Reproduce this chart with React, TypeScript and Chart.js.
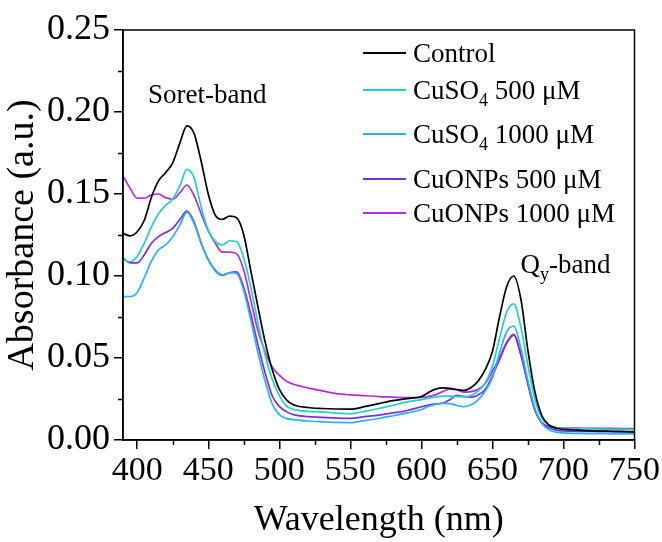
import React, { useEffect, useRef } from 'react';
import { Chart, registerables } from 'chart.js';

Chart.register(...registerables);

const wavelengths = [
  390, 395, 400, 405, 410, 415, 420, 425, 430, 435, 440, 445, 450, 455, 460, 465, 470, 475, 480, 485, 490, 495, 500, 505, 510,
  520, 530, 540, 550, 560, 570, 580, 590, 600,
  605, 610, 615, 620, 625, 630, 635, 640, 645, 650, 655, 660, 665, 670, 675, 680, 685, 690, 695, 700,
  710, 720, 730, 740, 750,
];

const control = [
  0.126, 0.1245, 0.127, 0.134, 0.148, 0.158, 0.163, 0.169, 0.181, 0.1915, 0.187, 0.170, 0.150, 0.137, 0.1345, 0.1365, 0.1355, 0.125, 0.103, 0.081, 0.060, 0.043, 0.031, 0.0245, 0.0215,
  0.0198, 0.0192, 0.0189, 0.0188, 0.0203, 0.0222, 0.0240, 0.0252, 0.0265,
  0.0290, 0.0310, 0.0318, 0.0315, 0.0308, 0.0302, 0.0320, 0.0360, 0.0430, 0.0540, 0.0750, 0.0935, 0.1000, 0.0860, 0.0545, 0.0290, 0.0145, 0.0090, 0.0072, 0.0065,
  0.0060, 0.0056, 0.0054, 0.0052, 0.0050,
];

const cuso4_500 = [
  0.110, 0.1087, 0.112, 0.120, 0.130, 0.138, 0.143, 0.147, 0.155, 0.165, 0.160, 0.142, 0.128, 0.121, 0.119, 0.1215, 0.121, 0.111, 0.093, 0.071, 0.052, 0.037, 0.027, 0.0207, 0.0187,
  0.0175, 0.0172, 0.0164, 0.0160, 0.0175, 0.0192, 0.0212, 0.0232, 0.0246,
  0.0255, 0.0262, 0.0268, 0.0268, 0.0265, 0.0264, 0.0272, 0.0300, 0.0350, 0.0450, 0.0620, 0.0780, 0.0830, 0.0690, 0.0455, 0.0245, 0.0130, 0.0091, 0.0075, 0.0070,
  0.0068, 0.0067, 0.0066, 0.0065, 0.0065,
];

const cuso4_1000 = [
  0.0874, 0.0875, 0.090, 0.099, 0.109, 0.116, 0.119, 0.124, 0.131, 0.139, 0.132, 0.120, 0.110, 0.103, 0.1003, 0.102, 0.1015, 0.091, 0.073, 0.053, 0.036, 0.022, 0.0155, 0.0132, 0.0124,
  0.0116, 0.0111, 0.0107, 0.0106, 0.0118, 0.0131, 0.0148, 0.0165, 0.0186,
  0.0205, 0.0217, 0.0223, 0.0222, 0.0210, 0.0203, 0.0215, 0.0245, 0.0300, 0.0380, 0.0530, 0.0660, 0.0695, 0.0560, 0.0360, 0.0190, 0.0100, 0.0061, 0.0048, 0.0043,
  0.0040, 0.0039, 0.0038, 0.0037, 0.0037,
];

const cuonps_500 = [
  0.1108, 0.108, 0.108, 0.113, 0.120, 0.124, 0.1265, 0.129, 0.1345, 0.1395, 0.133, 0.120, 0.110, 0.1035, 0.1005, 0.102, 0.1025, 0.093, 0.0765, 0.058, 0.041, 0.027, 0.0205, 0.0173, 0.0155,
  0.0143, 0.0138, 0.0133, 0.0132, 0.0142, 0.0152, 0.0165, 0.0180, 0.0203,
  0.0213, 0.0220, 0.0224, 0.0245, 0.0272, 0.0265, 0.0262, 0.0275, 0.0310, 0.0390, 0.0490, 0.0590, 0.0640, 0.0520, 0.0340, 0.0180, 0.0100, 0.0075, 0.0060, 0.0055,
  0.0053, 0.0052, 0.0051, 0.0050, 0.0050,
];

const cuonps_1000 = [
  0.161, 0.1535, 0.1475, 0.1475, 0.1495, 0.150, 0.1478, 0.1468, 0.1508, 0.1555, 0.149, 0.138, 0.1275, 0.120, 0.1145, 0.1145, 0.1135, 0.1035, 0.085, 0.0665, 0.054, 0.0445, 0.0395, 0.0358, 0.034,
  0.0318, 0.0300, 0.0283, 0.0275, 0.0270, 0.0265, 0.0262, 0.0258, 0.0260,
  0.0265, 0.0275, 0.0295, 0.0310, 0.0305, 0.0292, 0.0295, 0.0310, 0.0345, 0.0420, 0.0500, 0.0595, 0.0645, 0.0525, 0.0345, 0.0180, 0.0105, 0.0082, 0.0075, 0.0073,
  0.0072, 0.0071, 0.0071, 0.0070, 0.0070,
];

const seriesValues = [control, cuso4_500, cuso4_1000, cuonps_500, cuonps_1000];
const seriesNames = ['Control', 'CuSO4 500 μM', 'CuSO4 1000 μM', 'CuONPs 500 μM', 'CuONPs 1000 μM'];
// legend label pieces: [main, subscript, rest]
const legendParts: [string, string, string][] = [
  ['Control', '', ''],
  ['CuSO', '4', ' 500 μM'],
  ['CuSO', '4', ' 1000 μM'],
  ['CuONPs 500 μM', '', ''],
  ['CuONPs 1000 μM', '', ''],
];
const seriesColors = ['#000000', '#1fd0d0', '#2ab0ff', '#7a2ee0', '#b42ee0'];

const xMajorTicks = [400, 450, 500, 550, 600, 650, 700, 750];
const xMinorTicks = [425, 475, 525, 575, 625, 675, 725];
const yMinorTicks = [0.025, 0.075, 0.125, 0.175, 0.225];

const FONT = '"Liberation Serif", "Times New Roman", serif';

const decorPlugin = {
  id: 'decor',
  afterDraw(chart: any) {
    const { ctx, chartArea: a, scales } = chart;
    const xs = scales.x;
    const ys = scales.y;
    ctx.save();
    ctx.strokeStyle = '#000';
    ctx.lineWidth = 1.5;
    ctx.strokeRect(a.left, a.top, a.right - a.left, a.bottom - a.top);
    ctx.beginPath();
    xMinorTicks.forEach((v) => {
      const px = Math.round(xs.getPixelForValue(v)) + 0.5;
      ctx.moveTo(px, a.bottom);
      ctx.lineTo(px, a.bottom + 5);
    });
    yMinorTicks.forEach((v) => {
      const py = Math.round(ys.getPixelForValue(v)) + 0.5;
      ctx.moveTo(a.left, py);
      ctx.lineTo(a.left - 5, py);
    });
    ctx.stroke();

    // legend
    const rowOffsets = [23, 60, 104, 149, 183];
    const lx = a.left + 240;
    ctx.fillStyle = '#000';
    ctx.textBaseline = 'alphabetic';
    legendParts.forEach((parts, i) => {
      const ry = a.top + rowOffsets[i];
      ctx.strokeStyle = seriesColors[i];
      ctx.lineWidth = 1.8;
      ctx.beginPath();
      ctx.moveTo(lx, ry);
      ctx.lineTo(lx + 43, ry);
      ctx.stroke();
      let tx = lx + 50;
      const base = ry + 9;
      ctx.font = `27px ${FONT}`;
      ctx.fillText(parts[0], tx, base);
      tx += ctx.measureText(parts[0]).width;
      if (parts[1]) {
        ctx.font = `18px ${FONT}`;
        ctx.fillText(parts[1], tx, base + 7);
        tx += ctx.measureText(parts[1]).width;
      }
      if (parts[2]) {
        ctx.font = `27px ${FONT}`;
        ctx.fillText(parts[2], tx, base);
      }
    });

    // band annotations
    ctx.font = `27px ${FONT}`;
    ctx.fillText('Soret-band', xs.getPixelForValue(407.6), ys.getPixelForValue(0.2055));
    let qx = xs.getPixelForValue(669.8);
    const qy = ys.getPixelForValue(0.1018);
    ctx.fillText('Q', qx, qy);
    qx += ctx.measureText('Q').width;
    ctx.font = `18px ${FONT}`;
    ctx.fillText('y', qx, qy + 7);
    qx += ctx.measureText('y').width;
    ctx.font = `27px ${FONT}`;
    ctx.fillText('-band', qx, qy);
    ctx.restore();
  },
};

export default function App() {
  const ref = useRef<HTMLCanvasElement | null>(null);
  useEffect(() => {
    document.body.style.margin = '0';
    if (!ref.current) return;
    const chart = new Chart(ref.current, {
      type: 'line',
      data: {
        datasets: seriesValues.map((vals, i) => ({
          label: seriesNames[i],
          data: wavelengths.map((w, j) => ({ x: w, y: vals[j] })),
          borderColor: seriesColors[i],
          backgroundColor: seriesColors[i],
          borderWidth: 1.7,
          pointRadius: 0,
          cubicInterpolationMode: 'monotone' as const,
          fill: false,
        })),
      },
      options: {
        animation: false,
        responsive: false,
        layout: { padding: { top: 30, right: 27, left: 0, bottom: 0 } },
        plugins: { legend: { display: false }, tooltip: { enabled: false } },
        scales: {
          x: {
            type: 'linear',
            min: 390,
            max: 750,
            afterBuildTicks: (s: any) => {
              s.ticks = xMajorTicks.map((v) => ({ value: v }));
            },
            afterFit: (s: any) => {
              s.height = 102;
            },
            ticks: {
              font: { family: FONT, size: 34 },
              color: '#000',
              padding: 2,
              maxRotation: 0,
              autoSkip: false,
            },
            grid: { drawOnChartArea: false, drawTicks: true, tickLength: 9, color: '#000', lineWidth: 1.5 },
            border: { display: true, color: '#000', width: 1.5 },
            title: {
              display: true,
              text: 'Wavelength (nm)',
              font: { family: FONT, size: 36 },
              color: '#000',
              padding: { top: 0, bottom: 0 },
            },
          },
          y: {
            type: 'linear',
            min: 0,
            max: 0.25,
            ticks: {
              stepSize: 0.05,
              font: { family: FONT, size: 36 },
              color: '#000',
              padding: 4,
              callback: (v: any) => Number(v).toFixed(2),
            },
            afterFit: (s: any) => {
              s.width = 123;
            },
            grid: { drawOnChartArea: false, drawTicks: true, tickLength: 9, color: '#000', lineWidth: 1.5 },
            border: { display: true, color: '#000', width: 1.5 },
            title: {
              display: true,
              text: 'Absorbance (a.u.)',
              font: { family: FONT, size: 38 },
              color: '#000',
              padding: { top: 0, bottom: 0 },
            },
          },
        },
      },
      plugins: [decorPlugin],
    });
    return () => chart.destroy();
  }, []);
  return <canvas ref={ref} width={662} height={542} style={{ display: 'block' }} />;
}
